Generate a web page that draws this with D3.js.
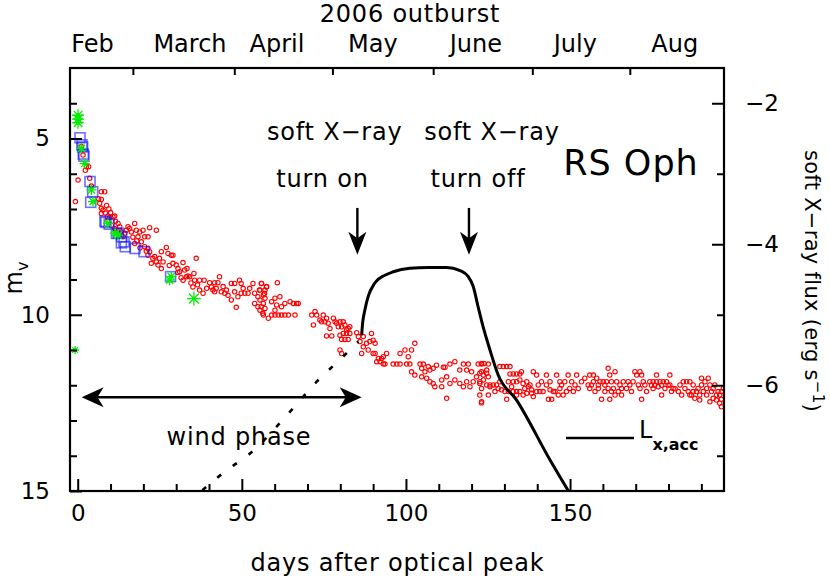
<!DOCTYPE html>
<html><head><meta charset="utf-8">
<script src="https://cdn.jsdelivr.net/npm/d3@7"></script>
<style>
body{margin:0;background:#fff}
svg{display:block}
text{font-family:"DejaVu Sans",sans-serif;fill:#000}
</style>
</head><body>
<svg id="chart" width="830" height="582"></svg>
<script>
// ---------------- data ----------------
const monthTickDays = [16.8, 47.7, 77.6, 108.3, 138.5, 168.2];
const monthLabels = ["Feb", "March", "April", "May", "June", "July", "Aug"];
const monthLabelDays = [4.5, 34.2, 60.7, 89.9, 121.3, 151.6, 181.9];
const dayTicks = d3.range(0, 200, 10);
const dayLabels = [0, 50, 100, 150];
const magTicks = d3.range(4, 16);
const magLabels = [5, 10, 15];
const fluxTicks = [-2, -3, -4, -5, -6, -7];
const fluxLabels = [-2, -4, -6];

// optical magnitudes (red circles): [days after peak, m_V]
const optRed = [
[0.1,6.18],[-0.7,6.79],[1.11,5.23],[1.62,5.47],[2.63,5.8],[3.34,5.8],[2.33,5.9],[3.65,6.13],[4.16,6.35],[7.2,6.51],[8.22,6.51],[7.2,6.73],[6.39,6.71],[6.7,6.84],[7.2,6.98],[7.71,7.03],[8.42,7.11],[7.2,7.13],[9.03,7.22],[9.74,7.24],[10.76,7.22],[11.26,7.2],[9.23,7.33],[10.25,7.46],[11.26,7.55],[12.28,7.41],[12.28,7.65],[13.29,7.65],[13.8,7.79],[14.31,7.69],[15.32,7.5],[15.83,7.55],[16.34,7.65],[17.35,7.41],[17.86,7.6],[18.37,7.79],[18.88,7.65],[19.89,7.6],[20.4,7.79],[21.42,7.79],[21.92,7.53],[23.95,7.6],[19.38,7.93],[17.35,7.98],[20.4,8.07],[21.42,8.12],[21.92,8.21],[21.42,8.31],[23.45,8.35],[22.43,8.54],[23.95,8.5],[24.46,8.59],[25.48,8.69],[25.48,8.21],[27.0,8.09],[27.5,8.26],[28.5,8.31],[29.0,8.31],[29.0,8.54],[30.0,8.59],[30.55,8.69],[31.06,8.78],[32.07,8.52],[32.58,8.73],[33.3,8.69],[33.6,8.9],[33.1,8.92],[32.1,9.02],[34.1,8.92],[35.4,8.83],[36.1,8.4],[35.6,9.02],[37.15,9.02],[38.5,9.02],[35.1,9.21],[37.15,9.3],[38.2,9.39],[40.2,9.09],[40.7,9.21],[41.7,9.09],[42.7,9.09],[43.2,8.92],[41.7,9.35],[41.2,9.3],[43.75,9.35],[44.8,9.39],[45.3,9.3],[46.8,9.11],[47.8,9.11],[49.3,9.02],[49.8,9.11],[50.9,9.39],[47.8,9.35],[48.8,9.49],[46.8,9.58],[48.3,9.79],[49.8,9.39],[51.9,9.39],[53.4,9.11],[53.9,9.39],[55.9,9.11],[54.9,9.49],[57.5,9.21],[53.9,9.68],[54.9,9.77],[55.9,9.77],[56.4,9.96],
[8.8,6.9],[9.5,7.0],[10.0,7.1],[11.5,7.35],[12.8,7.5],[14.8,7.6],[16.8,7.8],[18.0,7.9],[19.0,8.1],[20.9,8.2],[22.9,8.4],[24.9,8.4],[26.0,8.5],[27.9,8.6],[30.5,8.8],[31.5,8.95],[34.5,9.1],[36.5,9.15],[39.3,9.25],[42.2,9.25],[44.3,9.2],[45.8,9.45],[50.4,9.25],[52.4,9.25],[55.4,9.3],[56.9,9.4],
[56.04,9.11],[57.56,9.2],[60.81,9.09],[55.53,9.3],[57.05,9.3],[56.55,9.44],[57.05,9.53],[55.53,9.58],[56.55,9.68],[57.05,9.82],[55.53,9.87],[56.55,10.01],[58.07,10.1],[59.08,10.01],[60.1,10.01],[61.1,10.01],[62.1,10.01],[63.1,10.01],[64.2,10.01],[66.2,10.01],[59.08,9.63],[60.1,9.53],[61.6,9.49],[60.6,9.72],[60.1,9.87],[62.1,9.77],[63.1,9.68],[64.7,9.63],[65.7,9.68],[66.7,9.68],[67.2,9.68],[71.3,10.01],[72.3,9.91],[72.8,10.01],[73.8,10.15],[74.8,10.01],[74.3,10.2],[75.8,10.1],[75.3,10.2],[76.3,10.24],[76.85,10.39],[77.9,10.1],[78.4,10.2],[78.9,10.24],[79.9,10.2],[80.9,10.2],[79.4,10.34],[80.4,10.34],[81.4,10.29],[81.9,10.43],[82.4,10.39],[82.9,10.34],[81.9,10.53],[82.9,10.53],[80.9,10.53],[79.9,10.58],[82.4,10.7],[81.4,10.7],[80.4,10.7],[71.8,10.29],[75.8,10.6],[77.4,10.6],[85.0,10.51],[85.5,10.62],[86.0,10.76],[87.0,10.62],[88.0,10.81],[89.0,10.76],[89.5,10.53],[90.0,10.72],[90.6,10.81],[87.0,10.91],[88.5,11.0],[79.9,11.0],[80.4,11.1],[86.5,11.1],[90.0,11.1],[90.6,11.1],[91.6,11.24],[93.1,11.19],[92.6,11.24],[94.1,11.1],[91.1,11.33],[92.1,11.33],[93.1,11.4],[93.6,11.4],[96.1,11.4],[97.2,11.4],[98.2,11.4],[99.7,11.0],[100.7,11.19],[101.7,11.0],[102.7,10.81],[98.2,11.1],[100.2,11.4],[101.2,11.4],[101.7,11.62],[102.7,11.71],[104.3,11.4],[105.3,11.4],[106.8,11.47],[104.8,11.52],[105.8,11.62],[107.3,11.57],[108.3,11.52],[109.3,11.43],[111.4,11.49],[111.9,11.49],[114.9,11.33],[113.4,11.4],[117.5,11.4],[119.0,11.4],[122.0,11.4],[123.0,11.4],[125.1,11.4],[116.4,11.57],[118.5,11.57],[120.0,11.62],[123.0,11.62],[124.6,11.57],[104.8,11.76],[106.3,11.8],[107.3,11.9],[108.3,11.95],[108.8,12.04],[110.9,11.85],[110.9,12.04],[112.4,11.76],[113.4,11.95],[114.9,11.85],[116.4,11.95],[117.5,12.04],[118.5,11.9],[119.5,12.04],[120.5,11.9],[121.5,11.76],[122.5,11.95],[123.6,11.85],[125.1,11.76],[125.6,12.04],[112.4,12.37],[123.0,12.5],
[123.05,11.38],[123.8,11.38],[122.5,11.66],[123.6,11.71],[124.6,11.66],[122.5,11.9],[123.05,12.09],[122.5,12.28],[123.05,12.47],[124.6,11.99],[125.6,11.99],[126.6,11.99],[127.6,11.99],[128.1,12.09],[128.6,11.47],[129.65,11.47],[130.7,11.47],[131.7,11.47],[129.1,12.13],[131.7,11.68],[132.7,11.68],[133.7,11.68],[134.7,11.68],[135.2,11.615],[131.2,11.9],[132.7,11.9],[133.7,11.9],[134.7,11.85],[135.7,11.95],[136.8,11.9],[130.15,12.18],[131.2,12.18],[132.7,12.18],[133.7,12.18],[134.7,12.18],[135.7,12.28],[136.8,12.23],[130.7,12.4],[133.7,12.28],[137.3,12.04],[138.3,12.13],[138.8,11.615],[139.8,11.71],[138.3,12.23],[139.8,12.18],[140.8,12.18],[141.8,12.18],[138.8,12.32],[140.3,11.99],[142.8,11.71],[143.9,11.9],[142.8,11.99],[143.9,12.13],[144.9,12.18],[143.4,12.4],[144.4,12.4],[145.9,11.71],[146.9,11.9],[147.4,11.99],[148.4,11.9],[148.9,12.18],[146.4,12.28],[147.9,12.28],[149.4,11.71],[150.5,11.9],[151.5,11.99],[152.0,11.71],[152.5,12.09],[151.0,12.18],[154.5,11.8],[156.0,11.71],[157.1,11.71],[158.1,11.8],[155.5,11.99],[156.5,11.99],[156.0,12.09],[157.6,12.18],[158.6,11.99],[159.1,11.9],[159.6,12.4],[160.1,11.9],[161.1,11.9],[161.6,11.52],[162.1,11.71],[162.6,11.9],[160.6,11.99],[161.6,12.09],[162.6,12.18],[160.6,12.18],[163.7,11.615],[164.2,11.9],[165.2,11.99],[164.7,12.18],[163.7,12.28],[162.1,12.4],[165.7,12.28],[166.2,11.9],[167.2,12.09],[168.2,11.99],[168.7,12.18],[169.2,11.9],[170.3,11.71],[169.75,11.615],[171.3,11.615],[171.8,11.71],[172.3,11.9],[170.8,11.99],[172.8,11.99],[173.3,12.18],[171.8,12.4],[171.3,12.09],[174.3,11.9],[175.3,11.9],[176.35,11.9],[177.4,11.9],[178.4,11.9],[179.4,11.9],[176.35,11.71],[180.4,11.71],[175.3,12.09],[176.85,12.04],[177.9,12.28],[178.9,12.09],[180.4,11.99],[181.4,12.09],[180.9,12.18],[183.5,11.99],[184.5,11.9],[185.5,11.9],[186.5,11.9],[185.0,12.09],[186.0,12.18],[187.5,11.99],[187.5,12.18],[187.0,12.28],[188.0,12.37],[189.0,12.09],[190.05,11.99],[190.05,11.8],[191.1,11.9],[192.1,11.8],[192.6,11.99],[190.6,12.18],[191.6,12.28],[193.1,12.18],[193.6,12.37],[189.5,12.42],[192.6,12.47],[194.1,11.99],[195.1,12.18],[195.6,12.28],[194.6,12.42],[195.6,12.51],[196.1,12.61],[196.7,12.09],
[174.8,12.0],[175.8,12.0],[177.9,12.0],[179.9,12.0],[182.0,12.1],[183.0,12.18],[184.0,12.28],[186.5,12.28],[188.5,12.18],[189.5,12.28],[191.6,12.09],[193.6,12.09],[194.6,12.28],[196.1,12.4],[196.1,12.18],[167.7,11.9],[165.7,12.09],[163.2,12.09],[158.6,12.09],[157.1,11.9],[153.5,11.9],[149.9,12.09],[146.9,12.09],[145.4,12.18],[141.3,11.9],[137.8,11.99],[136.2,12.09],[132.2,12.04],[128.6,11.9],[127.1,12.18],[125.1,12.28]
];
// blue squares: [days, m_V]
const optBlue = [[0.7,4.98],[1.3,5.18],[1.5,5.24],[1.7,5.44],[1.9,5.5],[3.75,6.22],[4.55,6.51],[3.95,6.81],[8.3,7.35],[8.6,7.38],[9.6,7.43],[11.8,7.69],[12.4,7.69],[13.3,7.96],[13.4,7.79],[14.1,7.93],[14.5,8.07],[17.45,8.12],[20.2,8.21],[28.3,8.92]];
// green asterisks: [days, m_V, size]
const optGreen = [[0.1,4.34,6],[0.1,4.45,6],[0.1,4.55,6],[1.1,5.28,5],[2.1,5.71,5],[4.16,6.46,5],[4.66,6.79,5],[9.2,7.41,5],[11.3,7.69,5],[12.3,7.74,5],[28.5,8.92,5],[28.0,9.02,5],[35.4,9.54,7],[-0.8,11.0,4]];
// soft X-ray light curve: [days, log flux]
const xrayLx = [[86.5,-5.29],[86.8,-5.12],[87.5,-4.93],[88.5,-4.74],[90.5,-4.55],[93.6,-4.44],[96.1,-4.39],[101.2,-4.34],[106.8,-4.33],[112.4,-4.33],[116.5,-4.375],[119.0,-4.46],[120.5,-4.60],[122.0,-4.89],[123.5,-5.17],[125.6,-5.50],[128.1,-5.855],[133.7,-6.21],[143.9,-7.06],[149.5,-7.50]];
// extrapolated wind phase (dotted): [days, log flux]
const windExtrap = [[37.95,-7.49],[42.3,-7.32],[47.4,-7.14],[52.3,-6.975],[64.7,-6.375],[72.8,-5.95],[81.4,-5.57],[85.5,-5.38]];

// ---------------- layout ----------------
const L = 70, R = 724, T = 68, B = 491;
const svg = d3.select("#chart");
const x = d3.scaleLinear().domain([-2.35, 196.9]).range([L, R]);
const yL = d3.scaleLinear().domain([3, 15]).range([T, B]);
const yR = d3.scaleLinear().domain([-1.5, -7.5]).range([T, B]);

svg.append("defs").append("clipPath").attr("id", "clip")
  .append("rect").attr("x", L).attr("y", T).attr("width", R - L).attr("height", B - T);

const plot = svg.append("g").attr("clip-path", "url(#clip)");

// red circles
plot.append("g").selectAll("circle").data(optRed).join("circle")
  .attr("cx", d => x(d[0])).attr("cy", d => yL(d[1])).attr("r", 2.2)
  .attr("fill", "none").attr("stroke", "#ff0000").attr("stroke-width", 1.1);

// blue squares
const sq = 10;
plot.append("g").selectAll("rect").data(optBlue).join("rect")
  .attr("x", d => x(d[0]) - sq / 2).attr("y", d => yL(d[1]) - sq / 2)
  .attr("width", sq).attr("height", sq)
  .attr("fill", "none").attr("stroke", "#1010ff").attr("stroke-opacity", 0.6).attr("stroke-width", 1.6);

// green asterisks
const star = s => `M0,${-s}V${s}M${-s},0H${s}M${-s*0.72},${-s*0.72}L${s*0.72},${s*0.72}M${-s*0.72},${s*0.72}L${s*0.72},${-s*0.72}`;
plot.append("g").selectAll("path").data(optGreen).join("path")
  .attr("transform", d => `translate(${x(d[0])},${yL(d[1])})`)
  .attr("d", d => star(d[2]))
  .attr("stroke", "#00ee00").attr("stroke-width", 1.3).attr("fill", "none");

// dashed extrapolation
plot.append("path").datum(windExtrap)
  .attr("d", d3.line().x(d => x(d[0])).y(d => yR(d[1])).curve(d3.curveMonotoneX))
  .attr("fill", "none").attr("stroke", "#000").attr("stroke-width", 2.6)
  .attr("stroke-dasharray", "5,14.5");

// X-ray curve
plot.append("path").datum(xrayLx)
  .attr("d", d3.line().x(d => x(d[0])).y(d => yR(d[1])).curve(d3.curveMonotoneX))
  .attr("fill", "none").attr("stroke", "#000").attr("stroke-width", 3)
  .attr("stroke-linejoin", "round");

// ---------------- annotations ----------------
const ann = svg.append("g");
function arrowHead(tx, ty, angle, len, half) {
  ann.append("path")
    .attr("transform", `translate(${tx},${ty}) rotate(${angle})`)
    .attr("d", `M0,0L${-len},${-half}L${-len*0.72},0L${-len},${half}Z`)
    .attr("fill", "#000");
}
// wind phase double arrow
const windStart = 1.2, windEnd = 86.5, windMag = 12.34;
ann.append("line").attr("x1", x(windStart) + 5).attr("x2", x(windEnd) - 5)
  .attr("y1", yL(windMag)).attr("y2", yL(windMag))
  .attr("stroke", "#000").attr("stroke-width", 2.4);
arrowHead(x(windStart), yL(windMag), 180, 22, 10);
arrowHead(x(windEnd), yL(windMag), 0, 22, 10);

// turn on / off arrows
const turnDays = [85.2, 119.2];
const arrowTopMag = 6.97, arrowTipMag = 8.3;
turnDays.forEach(dd => {
  ann.append("line").attr("x1", x(dd)).attr("x2", x(dd))
    .attr("y1", yL(arrowTopMag)).attr("y2", yL(arrowTipMag) - 6)
    .attr("stroke", "#000").attr("stroke-width", 2.4);
  arrowHead(x(dd), yL(arrowTipMag), 90, 23, 9);
});

function txt(str, px, py, size, anchor, extra) {
  return ann.append("text").attr("x", px).attr("y", py)
    .attr("font-size", size).attr("text-anchor", anchor || "middle")
    .attr("letter-spacing", extra == null ? 0.8 : extra)
    .text(str);
}
txt("2006 outburst", 410, 22, 24);
monthLabels.forEach((m, i) => txt(m, x(monthLabelDays[i]), 52, 24, "middle", 0));
txt("soft X\u2212ray", 334.7, 140, 24);
txt("soft X\u2212ray", 492, 140, 24);
txt("turn on", 322.5, 186.7, 24);
txt("turn off", 478, 186.7, 24);
txt("RS Oph", 631, 175, 35, "middle", 1);
txt("wind phase", 239, 445, 24);
txt("days after optical peak", 397.5, 571, 24);

// legend
ann.append("line").attr("x1", 566).attr("x2", 634).attr("y1", 438).attr("y2", 438)
  .attr("stroke", "#000").attr("stroke-width", 2.6);
const lg = ann.append("text").attr("x", 639).attr("y", 438).attr("font-size", 24);
lg.append("tspan").text("L");
lg.append("tspan").attr("font-size", 16).attr("font-weight", "bold").attr("dy", 12).text("x,acc");

// y-axis titles
const mv = ann.append("text").attr("transform", "translate(22,278) rotate(-90)")
  .attr("font-size", 24).attr("text-anchor", "middle");
mv.append("tspan").text("m");
mv.append("tspan").attr("font-size", 16).attr("dy", 6).text("v");

const rt = ann.append("text").attr("transform", "translate(805,281) rotate(90)")
  .attr("font-size", 21).attr("text-anchor", "middle").attr("letter-spacing", 0.3);
rt.append("tspan").text("soft X\u2212ray flux (erg s");
rt.append("tspan").attr("font-size", 15).attr("dy", -8).text("\u22121");
rt.append("tspan").attr("dy", 8).text(")");

// ---------------- axes ----------------
function styleAxis(g, size) {
  g.select(".domain").remove();
  g.selectAll(".tick line").attr("stroke", "#000").attr("stroke-width", 2);
  g.selectAll(".tick text").attr("font-size", size).attr("font-family", "DejaVu Sans").attr("fill", "#000");
}
const gB = svg.append("g").attr("transform", `translate(0,${B})`)
  .call(d3.axisBottom(x).tickValues(dayTicks).tickSize(-7).tickPadding(14)
    .tickFormat(d => dayLabels.includes(d) ? d : ""));
styleAxis(gB, 23);
gB.selectAll(".tick").filter(d => dayLabels.includes(d)).select("line").attr("y2", -12);

const gT = svg.append("g").attr("transform", `translate(0,${T})`)
  .call(d3.axisTop(x).tickValues(monthTickDays).tickSize(-7).tickFormat(""));
styleAxis(gT, 23);

const gL = svg.append("g").attr("transform", `translate(${L},0)`)
  .call(d3.axisLeft(yL).tickValues(magTicks).tickSize(-7).tickPadding(20)
    .tickFormat(d => magLabels.includes(d) ? d : ""));
styleAxis(gL, 23);
gL.selectAll(".tick").filter(d => magLabels.includes(d)).select("line").attr("x2", 12);

const gR = svg.append("g").attr("transform", `translate(${R},0)`)
  .call(d3.axisRight(yR).tickValues(fluxTicks).tickSize(-7).tickPadding(21)
    .tickFormat(d => fluxLabels.includes(d) ? d3.format("d")(d) : ""));
styleAxis(gR, 23);
gR.selectAll(".tick").filter(d => fluxLabels.includes(d)).select("line").attr("x2", -12);

// frame
svg.append("rect").attr("x", L).attr("y", T).attr("width", R - L).attr("height", B - T)
  .attr("fill", "none").attr("stroke", "#000").attr("stroke-width", 2.2);
</script>
</body></html>
